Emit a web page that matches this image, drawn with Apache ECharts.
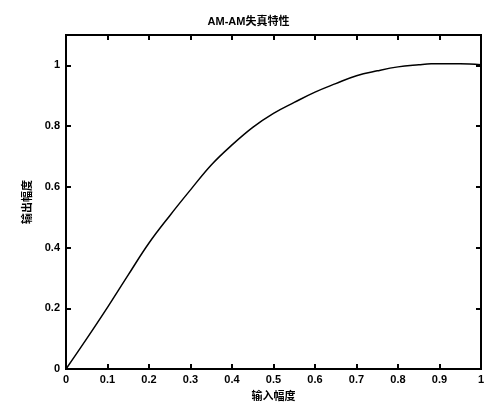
<!DOCTYPE html>
<html>
<head>
<meta charset="utf-8">
<script src="https://cdn.jsdelivr.net/npm/echarts@6/dist/echarts.min.js"></script>
<style>html,body{margin:0;padding:0;background:#fff;}#c{width:497px;height:416px;}</style>
</head>
<body>
<div id="c"></div>
<script>
const xValues = [0, 0.05, 0.1, 0.15, 0.2, 0.25, 0.3, 0.35, 0.4, 0.45, 0.5, 0.55, 0.6, 0.65, 0.7, 0.75, 0.8, 0.85, 0.88, 0.95, 1.0];
const yValues = [0, 0.1, 0.203, 0.31, 0.415, 0.505, 0.59, 0.672, 0.738, 0.796, 0.842, 0.878, 0.912, 0.94, 0.966, 0.982, 0.995, 1.002, 1.005, 1.005, 1.002];
const xTicks = [0, 0.1, 0.2, 0.3, 0.4, 0.5, 0.6, 0.7, 0.8, 0.9, 1];
const yTicks = [0, 0.2, 0.4, 0.6, 0.8, 1];
const titleText = 'AM-AM失真特性';
const xName = '输入幅度';
const yName = '输出幅度';

const FONT = '"Liberation Sans", "Noto Sans CJK SC", sans-serif';
const chart = echarts.init(document.getElementById('c'));
const fmt = v => String(Math.round(v * 10) / 10);
const labelStyle = (margin, ticks) => ({
  show: true, fontSize: 11, fontWeight: 'bold', color: '#000', fontFamily: FONT, margin: margin,
  formatter: v => ticks.some(t => Math.abs(t - v) < 1e-6) ? fmt(v) : ''
});
const nameStyle = {fontSize: 11, fontWeight: 'bold', color: '#000', fontFamily: FONT};
const frameLine = () => ({show: true, onZero: false, lineStyle: {color: '#000', width: 2}});
const frameTick = () => ({show: true, inside: true, length: 5, lineStyle: {color: '#000', width: 2}});

chart.setOption({
  animation: false,
  title: {
    text: titleText, left: 'center', top: 11,
    textStyle: {fontSize: 11, fontWeight: 'bold', color: '#000', fontFamily: FONT}
  },
  grid: {left: 66, right: 16, top: 35, bottom: 47, show: true, borderColor: '#000', borderWidth: 2},
  xAxis: [
    {type: 'value', min: 0, max: 1, interval: 0.1, position: 'bottom',
      name: xName, nameLocation: 'middle', nameGap: 22, nameTextStyle: nameStyle,
      splitLine: {show: false}, axisLine: frameLine(), axisTick: frameTick(),
      axisLabel: labelStyle(5, xTicks)},
    {type: 'value', min: 0, max: 1, interval: 0.1, position: 'top',
      splitLine: {show: false}, axisLine: frameLine(), axisTick: frameTick(),
      axisLabel: {show: false}}
  ],
  yAxis: [
    {type: 'value', min: 0, max: 1.1, interval: 0.2, position: 'left',
      name: yName, nameLocation: 'middle', nameGap: 32, nameRotate: 90, nameTextStyle: nameStyle,
      splitLine: {show: false}, axisLine: frameLine(), axisTick: frameTick(),
      axisLabel: labelStyle(6, yTicks)},
    {type: 'value', min: 0, max: 1.1, interval: 0.2, position: 'right',
      splitLine: {show: false}, axisLine: frameLine(), axisTick: frameTick(),
      axisLabel: {show: false}}
  ],
  series: [{
    type: 'line',
    data: xValues.map((x, i) => [x, yValues[i]]),
    smooth: 0.4,
    showSymbol: false,
    lineStyle: {color: '#000', width: 1.5},
    xAxisIndex: 0, yAxisIndex: 0
  }, {
    type: 'line',
    data: [[0, 0], [1, 1]],
    showSymbol: false,
    lineStyle: {width: 0, opacity: 0},
    silent: true,
    xAxisIndex: 1, yAxisIndex: 1
  }]
});
</script>
</body>
</html>
